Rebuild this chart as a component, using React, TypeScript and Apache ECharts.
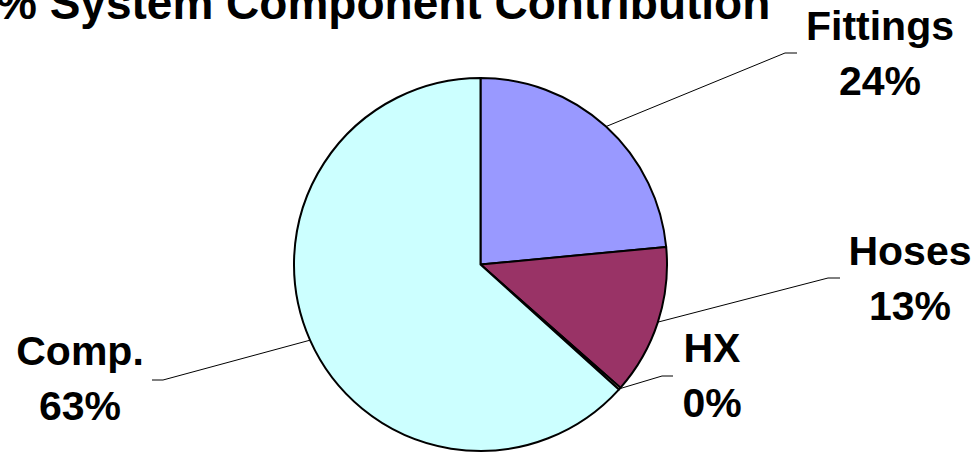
import React, { useEffect, useRef } from "react";
import * as echarts from "echarts";

const TITLE = "% System Component Contribution";
const categories = ["Fittings", "Hoses", "HX", "Comp."];
const values = [23.5, 13.0, 0.2, 63.3];
const colors = ["#9999FF", "#993366", "#FFFFCC", "#CCFFFF"];

// label block centres and leader-line bends (layout only)
const LABEL_POS = [
  { x: 880, y: 53, bend: [785, 53], end: [797, 53] },
  { x: 910, y: 278, bend: [828, 278], end: [840, 278] },
  { x: 712, y: 375, bend: [662, 376], end: [673, 376] },
  { x: 80, y: 378, bend: [163, 380], end: [152, 380] },
];

const FONT = "'Liberation Sans', Arial, Helvetica, sans-serif";

export default function App() {
  const ref = useRef<HTMLDivElement>(null);
  useEffect(() => {
    if (!ref.current) return;
    const chart = echarts.init(ref.current, null, { renderer: "svg" });
    chart.setOption({
      animation: false,
      backgroundColor: "#ffffff",
      title: {
        text: TITLE,
        left: -4,
        top: -20,
        padding: 0,
        textStyle: { fontSize: 46, fontWeight: "bold", fontFamily: FONT, color: "#000" },
      },
      series: [
        {
          type: "pie",
          center: [480.5, 264.5],
          radius: 186.5,
          startAngle: 90,
          clockwise: true,
          percentPrecision: 0,
          avoidLabelOverlap: false,
          itemStyle: { borderColor: "#000", borderWidth: 2 },
          label: {
            show: true,
            position: "outside",
            formatter: "{b}\n{d}%",
            fontSize: 41,
            lineHeight: 55,
            fontWeight: "bold",
            fontFamily: FONT,
            color: "#000",
            align: "center",
          },
          labelLine: { show: true, lineStyle: { color: "#000", width: 1 } },
          labelLayout: (params: any) => {
            const p = LABEL_POS[params.dataIndex];
            const pts = params.labelLinePoints || [];
            const start = pts[0] || p.bend;
            return {
              x: p.x,
              y: p.y,
              align: "center",
              verticalAlign: "middle",
              labelLinePoints: [start, p.bend, p.end],
            };
          },
          emphasis: { disabled: true },
          data: categories.map((name, i) => ({
            name,
            value: values[i],
            itemStyle: { color: colors[i] },
          })),
        },
      ],
    });
    return () => chart.dispose();
  }, []);
  return (
    <div
      ref={ref}
      style={{ position: "absolute", left: 0, top: 0, width: 980, height: 453 }}
    />
  );
}
